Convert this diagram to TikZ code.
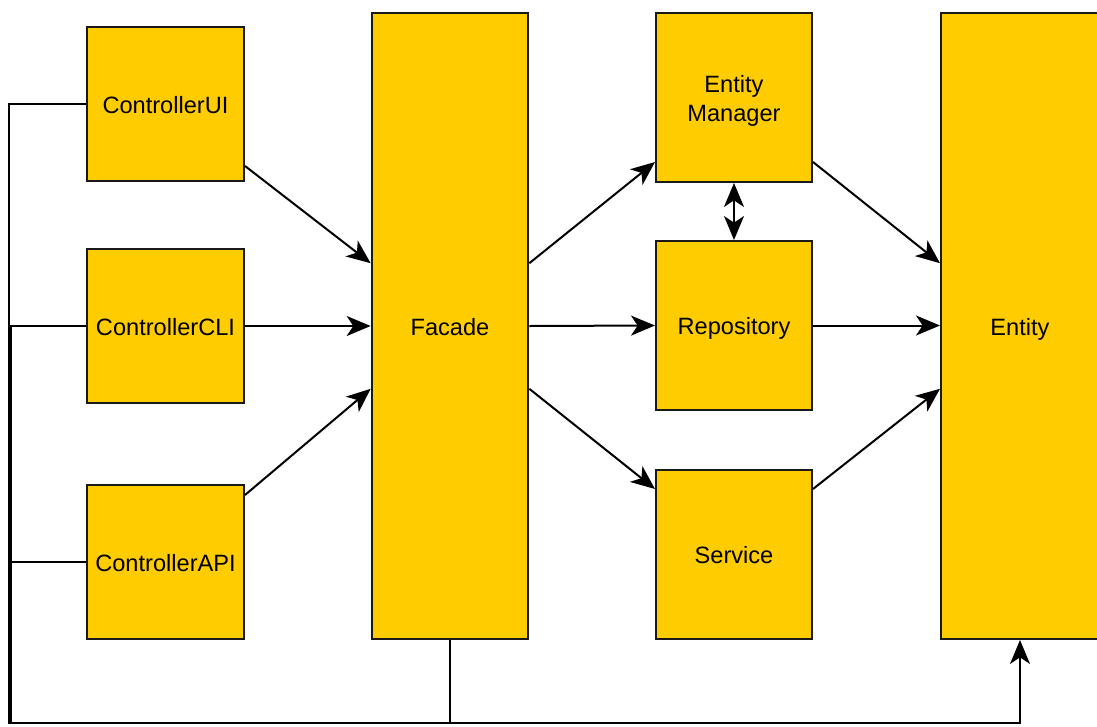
\documentclass[tikz,border=0pt]{standalone}
\usepackage{fontspec}
\setmainfont{Liberation Sans}
\usetikzlibrary{arrows.meta,calc}
\definecolor{gold}{HTML}{FFCC00}
\tikzset{>={Stealth[length=18pt, width=15pt, inset=5pt]}}

\begin{document}
\begin{tikzpicture}[x=0.75pt, y=-0.75pt]
	\tikzstyle{block} = [rectangle, draw=black!90, line width=1.5pt, fill=gold, inner sep=0pt, align=center, font=\fontsize{17.7}{21.75}\selectfont]
	\tikzstyle{oneline} = [text height=13.5pt, text depth=0pt]
	\tikzstyle{ctrl} = [block, oneline, minimum width=117.75pt, minimum height=115.5pt]
	\tikzstyle{tall} = [block, oneline, minimum width=117.5pt, minimum height=469.5pt]
	\tikzstyle{mid} = [block, minimum width=117pt, minimum height=126.75pt]
	\tikzstyle{edge} = [->, line width=1.5pt]
	\tikzstyle{wire} = [line width=1.5pt]

	\useasboundingbox (0,0) rectangle (1097,726);

%----------controllers------------------------------
	\node[ctrl] (ui) at (165.5,104) {ControllerUI};
	\node[ctrl] (cli) at (165.5,326) {ControllerCLI};
	\node[ctrl] (api) at (165.5,562) {ControllerAPI};

%----------facade-----------------------------------
	\node[tall] (facade) at (450,326) {Facade};

	\draw[edge] ($(ui.south east)+(0,-16)$) -- ($(facade.north west)!0.4!(facade.south west)$);
	\draw[edge] (cli.east) -- (facade.west);
	\draw[edge] ($(api.north east)+(0,11)$) -- ($(facade.north west)!0.6!(facade.south west)$);

%----------middle layer------------------------------
	\node[mid, text height=39pt] (em) at (734,97.5) {Entity\\Manager};
	\node[mid, oneline] (repo) at (734,325.5) {Repository};
	\node[mid, oneline] (service) at (734,554.5) {Service};

	\draw[edge] ($(facade.north east)!0.4!(facade.south east)$) -- ($(em.south west)+(0,-21)$);
	\draw[edge] (facade.east) -- (repo.west);
	\draw[edge] ($(facade.north east)!0.6!(facade.south east)$) -- ($(service.north west)+(0,20)$);

	\draw[<->, line width=1.5pt] (em.south) -- (repo.north);

%----------entity-----------------------------------
	\node[block, oneline, minimum width=118.5pt, minimum height=469.5pt] (entity) at (1020,326) {Entity};

	\draw[edge] ($(em.south east)+(0,-21)$) -- ($(entity.north west)!0.4!(entity.south west)$);
	\draw[edge] (repo.east) -- (repo.east -| entity.west);
	\draw[edge] ($(service.north east)+(0,20)$) -- ($(entity.north west)!0.6!(entity.south west)$);

%----------bottom bus---------------------------------
	\coordinate (busA) at (9,723);
	\coordinate (busB) at (11,723);
	\coordinate (busF) at (450,723);

	\draw[edge] (ui.west) -| (busA) -| (entity.south);
	\draw[wire] (cli.west) -| (busB);
	\draw[wire] (api.west) -| (busB);
	\draw[wire] (facade.south) -- (busF);

\end{tikzpicture}
\end{document}
